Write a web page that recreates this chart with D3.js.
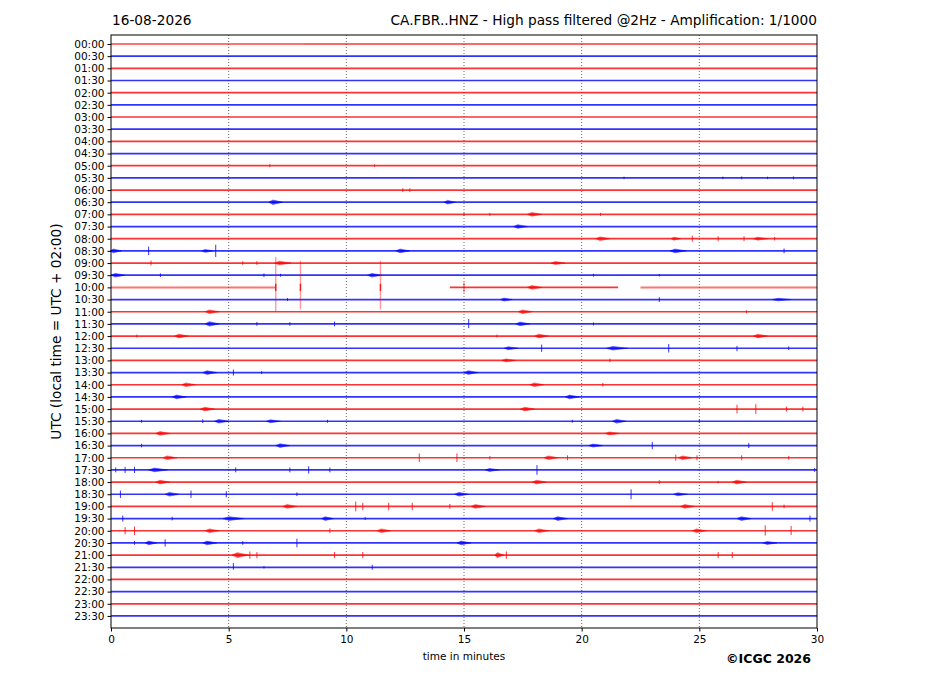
<!DOCTYPE html>
<html>
<head>
<meta charset="utf-8">
<script src="https://cdn.jsdelivr.net/npm/d3@7"></script>
<style>
  body { margin: 0; background: #fff; }
  text { font-family: "DejaVu Sans", sans-serif; }
</style>
</head>
<body>
<script>
// helicorder rows, 30 min each
const rowLabels = [
  '00:00', '00:30', '01:00', '01:30', '02:00', '02:30', '03:00', '03:30',
  '04:00', '04:30', '05:00', '05:30', '06:00', '06:30', '07:00', '07:30',
  '08:00', '08:30', '09:00', '09:30', '10:00', '10:30', '11:00', '11:30',
  '12:00', '12:30', '13:00', '13:30', '14:00', '14:30', '15:00', '15:30',
  '16:00', '16:30', '17:00', '17:30', '18:00', '18:30', '19:00', '19:30',
  '20:00', '20:30', '21:00', '21:30', '22:00', '22:30', '23:00', '23:30'
]
const minuteTicks = [0, 5, 10, 15, 20, 25, 30]

// rows with special trace segments: [row, from, to, level]  (level: 1 normal, 0 low)
const traceSegments = [
  [0, 0, 8.2, 0], [0, 8.2, 30, 1],
  [20, 0, 7.0, 0], [20, 14.4, 21.55, 1], [20, 22.5, 30, 0]
]

// wave trains: [row, centre minute, duration minutes, half amplitude (rows)]
const bursts = [
  [13, 7.0, 0.6, 0.18], [13, 14.4, 0.5, 0.15],
  [14, 18.0, 0.6, 0.15],
  [15, 17.4, 0.6, 0.15],
  [16, 20.9, 0.6, 0.15], [16, 24.0, 0.4, 0.12], [16, 27.6, 0.6, 0.12],
  [17, 0.2, 0.5, 0.15], [17, 4.1, 0.5, 0.12], [17, 12.4, 0.6, 0.15], [17, 24.1, 0.7, 0.15],
  [18, 7.3, 0.7, 0.15], [18, 19.0, 0.6, 0.12],
  [19, 0.3, 0.6, 0.15], [19, 11.2, 0.6, 0.15],
  [20, 18.0, 0.6, 0.15],
  [21, 16.8, 0.5, 0.12], [21, 28.5, 0.8, 0.1],
  [22, 4.3, 0.6, 0.15], [22, 17.6, 0.6, 0.15],
  [23, 4.3, 0.6, 0.18], [23, 17.5, 0.6, 0.15],
  [24, 3.0, 0.6, 0.15], [24, 18.3, 0.6, 0.15], [24, 27.6, 0.6, 0.15],
  [25, 17.0, 0.6, 0.12], [25, 21.5, 0.9, 0.15],
  [26, 16.9, 0.6, 0.12],
  [27, 4.2, 0.6, 0.15], [27, 15.3, 0.6, 0.15],
  [28, 3.3, 0.6, 0.15], [28, 18.1, 0.6, 0.15],
  [29, 2.9, 0.6, 0.15], [29, 19.6, 0.6, 0.15],
  [30, 4.1, 0.6, 0.15], [30, 17.7, 0.6, 0.15],
  [31, 4.7, 0.6, 0.15], [31, 6.9, 0.6, 0.12], [31, 21.6, 0.6, 0.15],
  [32, 2.2, 0.6, 0.15], [32, 21.3, 0.6, 0.12],
  [33, 7.3, 0.6, 0.15], [33, 20.6, 0.6, 0.12],
  [34, 2.5, 0.6, 0.15], [34, 18.7, 0.6, 0.15], [34, 24.4, 0.6, 0.15],
  [35, 2.0, 0.8, 0.15], [35, 16.2, 0.6, 0.12],
  [36, 2.2, 0.6, 0.15], [36, 18.2, 0.6, 0.15], [36, 26.7, 0.6, 0.15],
  [37, 2.6, 0.6, 0.15], [37, 14.9, 0.6, 0.15], [37, 24.2, 0.6, 0.12],
  [38, 7.6, 0.6, 0.15], [38, 15.6, 0.6, 0.15], [38, 24.5, 0.6, 0.15],
  [39, 5.2, 0.9, 0.15], [39, 9.2, 0.5, 0.15], [39, 19.1, 0.6, 0.15], [39, 26.9, 0.6, 0.15],
  [40, 4.3, 0.6, 0.15], [40, 11.6, 0.6, 0.15], [40, 18.3, 0.6, 0.15], [40, 25.0, 0.6, 0.15],
  [41, 1.7, 0.5, 0.15], [41, 4.2, 0.6, 0.15], [41, 15.0, 0.6, 0.15], [41, 28.0, 0.6, 0.12],
  [42, 5.5, 0.7, 0.2], [42, 16.5, 0.4, 0.2]
]

// single spikes: [row, minute, up (rows), down (rows)]
const spikes = [
  [10, 6.75, 0.12, 0.12], [10, 11.2, 0.1, 0.1],
  [11, 21.8, 0.1, 0.1], [11, 26.0, 0.1, 0.1], [11, 26.8, 0.12, 0.12], [11, 27.9, 0.1, 0.1], [11, 29.0, 0.12, 0.12],
  [12, 12.4, 0.15, 0.15], [12, 12.7, 0.15, 0.15],
  [14, 15.0, 0.12, 0.12], [14, 16.1, 0.12, 0.12], [14, 20.8, 0.12, 0.12],
  [16, 24.7, 0.25, 0.25], [16, 25.8, 0.2, 0.2], [16, 26.9, 0.2, 0.2], [16, 28.2, 0.15, 0.15],
  [17, 1.6, 0.35, 0.35], [17, 4.45, 0.5, 0.5], [17, 28.6, 0.2, 0.2],
  [18, 1.7, 0.2, 0.2], [18, 5.6, 0.15, 0.15], [18, 6.2, 0.15, 0.15],
  [19, 2.1, 0.15, 0.15], [19, 6.5, 0.15, 0.15], [19, 7.2, 0.12, 0.12], [19, 20.5, 0.12, 0.12], [19, 23.3, 0.1, 0.1],
  [20, 7.0, 2.5, 2.0], [20, 8.05, 2.2, 1.8], [20, 11.45, 2.2, 1.8], [20, 15.0, 0.4, 0.4],
  [21, 7.5, 0.12, 0.12], [21, 23.3, 0.2, 0.2],
  [22, 27.0, 0.12, 0.12],
  [23, 15.2, 0.4, 0.35], [23, 6.2, 0.15, 0.15], [23, 9.5, 0.2, 0.2], [23, 7.6, 0.15, 0.15], [23, 20.5, 0.12, 0.12],
  [24, 1.1, 0.12, 0.12], [24, 16.4, 0.12, 0.12],
  [25, 18.3, 0.3, 0.3], [25, 23.7, 0.35, 0.35], [25, 26.6, 0.2, 0.25], [25, 28.8, 0.15, 0.15],
  [26, 21.2, 0.15, 0.15],
  [27, 5.2, 0.25, 0.25], [27, 6.4, 0.12, 0.12],
  [28, 20.9, 0.15, 0.15],
  [30, 26.6, 0.35, 0.35], [30, 27.4, 0.4, 0.4], [30, 28.7, 0.2, 0.2], [30, 29.4, 0.2, 0.2],
  [31, 1.3, 0.12, 0.12], [31, 3.9, 0.15, 0.15], [31, 9.2, 0.12, 0.12], [31, 19.6, 0.12, 0.12], [31, 25.0, 0.12, 0.12],
  [33, 1.3, 0.15, 0.15], [33, 23.0, 0.3, 0.3], [33, 27.1, 0.2, 0.2],
  [34, 13.1, 0.35, 0.35], [34, 14.7, 0.35, 0.35], [34, 16.1, 0.15, 0.15], [34, 19.4, 0.2, 0.2],
  [34, 24.0, 0.25, 0.25], [34, 24.9, 0.2, 0.2], [34, 26.8, 0.2, 0.2], [34, 28.8, 0.15, 0.15],
  [35, 0.2, 0.2, 0.2], [35, 0.6, 0.25, 0.25], [35, 1.0, 0.25, 0.25], [35, 5.3, 0.2, 0.2], [35, 7.6, 0.2, 0.2],
  [35, 8.4, 0.3, 0.3], [35, 9.3, 0.2, 0.2], [35, 18.1, 0.4, 0.4], [35, 29.9, 0.15, 0.15],
  [36, 23.3, 0.15, 0.15], [36, 25.8, 0.1, 0.1],
  [37, 0.4, 0.3, 0.3], [37, 3.4, 0.3, 0.3], [37, 4.9, 0.25, 0.25], [37, 7.9, 0.15, 0.15], [37, 22.1, 0.4, 0.4],
  [38, 10.4, 0.4, 0.4], [38, 10.7, 0.3, 0.3], [38, 11.8, 0.3, 0.3], [38, 12.8, 0.3, 0.3], [38, 14.4, 0.2, 0.2],
  [38, 28.1, 0.35, 0.35], [38, 28.6, 0.15, 0.15],
  [39, 0.5, 0.25, 0.25], [39, 2.6, 0.15, 0.15], [39, 29.7, 0.25, 0.25], [39, 10.8, 0.12, 0.12],
  [40, 0.6, 0.3, 0.3], [40, 1.0, 0.35, 0.35], [40, 27.8, 0.45, 0.4], [40, 28.9, 0.4, 0.35], [40, 9.3, 0.2, 0.2],
  [41, 1.0, 0.15, 0.15], [41, 2.3, 0.3, 0.3], [41, 7.9, 0.35, 0.35], [41, 5.6, 0.15, 0.15],
  [42, 5.9, 0.3, 0.3], [42, 6.2, 0.25, 0.25], [42, 9.5, 0.25, 0.25], [42, 10.7, 0.25, 0.25],
  [42, 25.8, 0.25, 0.25], [42, 26.4, 0.25, 0.25], [42, 16.8, 0.3, 0.3],
  [43, 5.2, 0.35, 0.2], [43, 11.1, 0.2, 0.2], [43, 6.5, 0.1, 0.1]
]

const W = 927, H = 696
const margin = { top: 35, right: 110, bottom: 68, left: 111 }
const width = W - margin.left - margin.right
const height = H - margin.top - margin.bottom
const colors = ['#ff0000', '#0000ff']

const svg = d3.select('body')
  .append('svg')
  .attr('width', W)
  .attr('height', H)

const g = svg.append('g')
  .attr('transform', `translate(${margin.left},${margin.top})`)

const x = d3.scaleLinear().domain([0, 30]).range([0, width])
const y = d3.scaleLinear().domain([-0.74, 47.99]).range([0, height])

// grid
g.selectAll('.grid')
  .data(minuteTicks.slice(1, -1))
  .enter()
  .append('line')
  .attr('x1', d => x(d)).attr('x2', d => x(d))
  .attr('y1', 0).attr('y2', height)
  .attr('stroke', '#444')
  .attr('stroke-width', 0.8)
  .attr('stroke-dasharray', '1,2')

const plot = g.append('g')

// baselines
const special = new Set(traceSegments.map(d => d[0]))
const segs = []
rowLabels.forEach((lab, i) => {
  if (!special.has(i)) segs.push([i, 0, 30, 1])
})
traceSegments.forEach(d => segs.push(d))

plot.selectAll('path.trace')
  .data(segs)
  .enter()
  .append('path')
  .attr('class', 'trace')
  .attr('d', d => `M${x(d[1])},${y(d[0])}H${x(d[2])}`)
  .attr('fill', 'none')
  .attr('stroke', d => colors[d[0] % 2])
  .attr('stroke-width', d => d[3] === 1 ? 1.7 : 2)
  .attr('stroke-opacity', d => d[3] === 1 ? 0.8 : 0.55)

// wave trains
plot.selectAll('path.burst')
  .data(bursts)
  .enter()
  .append('path')
  .attr('class', 'burst')
  .attr('d', d => {
    const [r, m, dur, a] = d
    const t0 = m - dur / 2, t1 = m + dur / 2, tp = t0 + dur * 0.3
    return `M${x(t0)},${y(r)}L${x(tp)},${y(r - a)}L${x(t1)},${y(r)}L${x(tp)},${y(r + a)}Z`
  })
  .attr('fill', d => colors[d[0] % 2])
  .attr('stroke', d => colors[d[0] % 2])
  .attr('stroke-width', 0.6)
  .attr('opacity', 0.75)

// spikes
plot.selectAll('line.spike')
  .data(spikes)
  .enter()
  .append('line')
  .attr('class', 'spike')
  .attr('x1', d => x(d[1])).attr('x2', d => x(d[1]))
  .attr('y1', d => y(d[0] - d[2])).attr('y2', d => y(d[0] + d[3]))
  .attr('stroke', d => colors[d[0] % 2])
  .attr('stroke-width', d => d[2] > 1 ? 1.4 : 1)
  .attr('stroke-opacity', d => d[2] > 1 ? 0.4 : 0.8)

// spike cores for the large events
plot.selectAll('line.core')
  .data(spikes.filter(d => d[2] > 1))
  .enter()
  .append('line')
  .attr('class', 'core')
  .attr('x1', d => x(d[1])).attr('x2', d => x(d[1]))
  .attr('y1', d => y(d[0] - 0.3)).attr('y2', d => y(d[0] + 0.3))
  .attr('stroke', '#ff0000')
  .attr('stroke-width', 1.4)
  .attr('stroke-opacity', 0.85)

// frame
g.append('rect')
  .attr('width', width).attr('height', height)
  .attr('fill', 'none').attr('stroke', '#000').attr('stroke-width', 1)

// axes
const yAxis = d3.axisLeft(y)
  .tickValues(d3.range(rowLabels.length))
  .tickFormat(i => rowLabels[i])
  .tickSize(3.5).tickPadding(3)
const ya = g.append('g').call(yAxis)
ya.select('.domain').remove()
ya.selectAll('text').attr('font-size', '10.5px').attr('fill', '#000').attr('font-family', 'DejaVu Sans')
ya.selectAll('line').attr('stroke', '#000')

const xAxis = d3.axisBottom(x)
  .tickValues(minuteTicks)
  .tickFormat(d3.format('d'))
  .tickSize(3.5).tickPadding(4)
const xa = g.append('g').attr('transform', `translate(0,${height})`).call(xAxis)
xa.select('.domain').remove()
xa.selectAll('text').attr('font-size', '10.5px').attr('fill', '#000').attr('font-family', 'DejaVu Sans')
xa.selectAll('line').attr('stroke', '#000')

// titles
svg.append('text')
  .attr('x', margin.left + 1).attr('y', 25)
  .attr('font-size', '13.7px')
  .text('16-08-2026')

svg.append('text')
  .attr('x', margin.left + width).attr('y', 25)
  .attr('text-anchor', 'end')
  .attr('font-size', '13.7px')
  .text('CA.FBR..HNZ - High pass filtered @2Hz - Amplification: 1/1000')

svg.append('text')
  .attr('transform', `translate(61,${margin.top + height / 2}) rotate(-90)`)
  .attr('text-anchor', 'middle')
  .attr('font-size', '13.7px')
  .text('UTC (local time = UTC + 02:00)')

svg.append('text')
  .attr('x', margin.left + width / 2).attr('y', 660)
  .attr('text-anchor', 'middle')
  .attr('font-size', '10.5px')
  .text('time in minutes')

svg.append('text')
  .attr('x', 811).attr('y', 663)
  .attr('text-anchor', 'end')
  .attr('font-size', '12.5px')
  .attr('font-weight', 'bold')
  .text('©ICGC 2026')
</script>
</body>
</html>
